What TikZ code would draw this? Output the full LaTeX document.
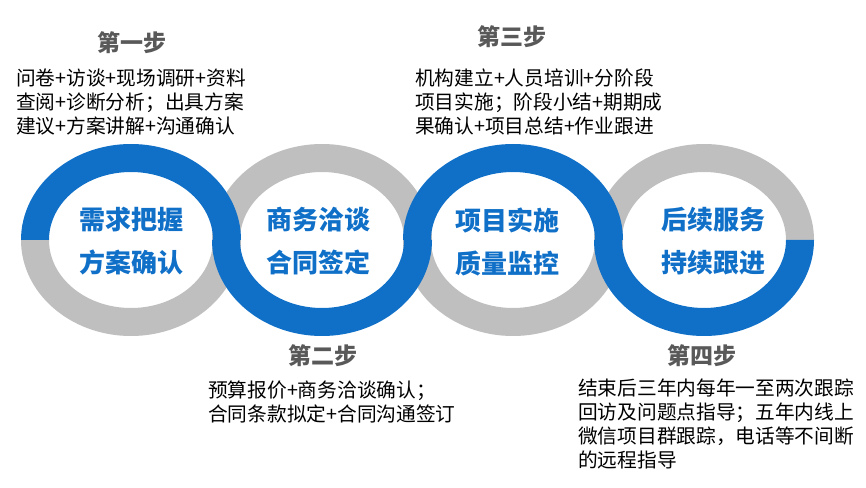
\documentclass[tikz,border=0pt]{standalone}
\usepackage{fontspec}
\setmainfont{Noto Sans CJK SC}
\definecolor{ringblue}{RGB}{16,112,200}
\definecolor{ringgray}{RGB}{191,191,191}
\definecolor{titlegray}{RGB}{89,89,89}
\newcommand\upperband[2]{\fill[#2] ({#1-110},247) arc[start angle=180,end angle=0,x radius=110,y radius=96] -- ({#1+82},247) arc[start angle=0,end angle=180,x radius=82,y radius=68] -- cycle;}
\newcommand\lowerband[2]{\fill[#2] ({#1-110},247) arc[start angle=180,end angle=360,x radius=110,y radius=96] -- ({#1+82},247) arc[start angle=360,end angle=180,x radius=82,y radius=68] -- cycle;}
\tikzset{
  steptitle/.style={font=\fontsize{23}{23}\selectfont\bfseries, text=titlegray, inner sep=0},
  stepbody/.style={font=\fontsize{19.7}{24}\selectfont, align=left, anchor=north west, inner sep=0, text=black},
  ringtext/.style={font=\fontsize{26}{43}\selectfont\bfseries, text=ringblue, align=center, inner sep=0}
}
\begin{document}
\begin{tikzpicture}[x=1pt,y=1pt]
\useasboundingbox (0,0) rectangle (866,487);
% gray halves first
\lowerband{131}{ringgray}
\upperband{322}{ringgray}
\lowerband{513}{ringgray}
\upperband{704}{ringgray}
% blue halves on top
\upperband{131}{ringblue}
\lowerband{322}{ringblue}
\upperband{513}{ringblue}
\lowerband{704}{ringblue}
% ring texts
\node[ringtext] (r1) at (131.5,245.5) {需求把握\\方案确认};
\node[ringtext] (r2) at (318,245.5) {商务洽谈\\合同签定};
\node[ringtext] (r3) at (507,245.5) {项目实施\\质量监控};
\node[ringtext] (r4) at (713,245.5) {后续服务\\持续跟进};
% step titles
\node[steptitle] (t1) at (132,444) {第一步};
\node[steptitle] (t3) at (512,450) {第三步};
\node[steptitle] (t2) at (323,131) {第二步};
\node[steptitle] (t4) at (702,131) {第四步};
% step bodies
\node[stepbody] (b1) at (16,418) {问卷+访谈+现场调研+资料\\查阅+诊断分析；出具方案\\建议+方案讲解+沟通确认};
\node[stepbody] (b3) at (415,418) {机构建立+人员培训+分阶段\\项目实施；阶段小结+期期成\\果确认+项目总结+作业跟进};
\node[stepbody] (b2) at (208,106) {预算报价+商务洽谈确认；\\合同条款拟定+合同沟通签订};
\node[stepbody] (b4) at (578,108) {结束后三年内每年一至两次跟踪\\回访及问题点指导；五年内线上\\微信项目群跟踪，电话等不间断\\的远程指导};
\end{tikzpicture}
\end{document}
